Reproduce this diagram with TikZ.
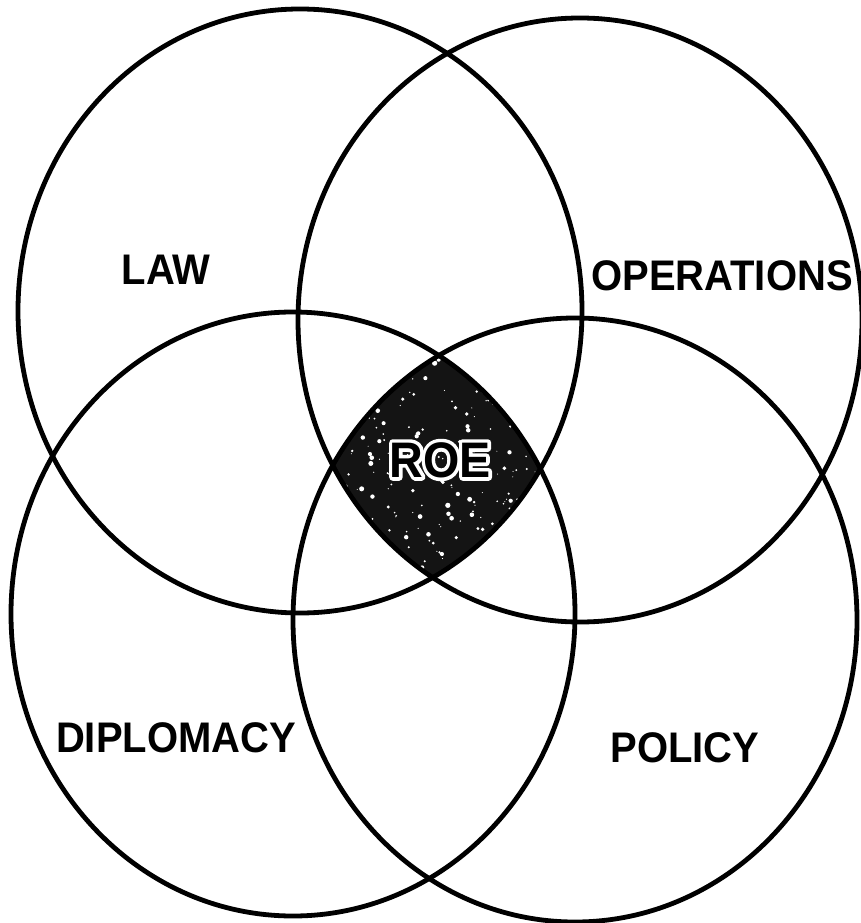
\documentclass[tikz,border=0pt]{standalone}
\usepackage{fontspec}
\setmainfont{Liberation Sans}
% outline-only rendering of glyphs (PDF text render mode 2, stroked in the current colour)
\newcommand{\haloglyphs}[2]{\special{pdf:literal direct 2 Tr #1 w 1 j}#2\special{pdf:literal direct 0 Tr}}
\begin{document}
\begin{tikzpicture}[x=0.75pt,y=-0.75pt,
  ring/.style={line width=3.6pt, draw=black},
  area label/.style={font=\bfseries\fontsize{30}{36}\selectfont, inner sep=0pt, yscale=1.07},
  core label/.style={font=\bfseries\fontsize{35}{42}\selectfont, inner sep=0pt, yscale=1.07}]
\useasboundingbox (0,0) rectangle (860,923);
\fill[white] (0,0) rectangle (860,923);

% centres of the four overlapping domains
\coordinate (cLaw) at (300,311);
\coordinate (cOps) at (580,320);
\coordinate (cDip) at (293,614);
\coordinate (cPol) at (575,620);
\def\ringrx{211.5pt}
\def\ringry{226.5pt}

% shared core: intersection of all four domains, dark with a grainy texture
\begin{scope}
  \clip (cLaw) ellipse [x radius=\ringrx, y radius=\ringry];
  \clip (cOps) ellipse [x radius=\ringrx, y radius=\ringry];
  \clip (cDip) ellipse [x radius=\ringrx, y radius=\ringry];
  \clip (cPol) ellipse [x radius=\ringrx, y radius=\ringry];
  \fill[black!92] (300,300) rectangle (600,620);
  \pgfmathsetseed{17}
  \foreach \k in {1,...,260}{
    \pgfmathsetmacro{\px}{335+210*rnd}
    \pgfmathsetmacro{\py}{345+230*rnd}
    \pgfmathsetmacro{\pr}{0.4+1.6*rnd^2}
    \fill[white] (\px,\py) circle [radius=\pr pt];
  }
\end{scope}

% core label: white outline behind black letters
\node[core label, text=white] (roe halo) at (440,460) {\haloglyphs{5}{ROE}};
\node[core label] (roe) at (440,460) {ROE};

% the four domains
\draw[ring] (cLaw) ellipse [x radius=\ringrx, y radius=\ringry];
\draw[ring] (cOps) ellipse [x radius=\ringrx, y radius=\ringry];
\draw[ring] (cDip) ellipse [x radius=\ringrx, y radius=\ringry];
\draw[ring] (cPol) ellipse [x radius=\ringrx, y radius=\ringry];

% domain labels
\node[area label] (law) at (166,270) {LAW};
\node[area label] (ops) at (722,276) {OPERATIONS};
\node[area label] (dip) at (176,738) {DIPLOMACY};
\node[area label] (pol) at (685,748) {POLICY};
\end{tikzpicture}
\end{document}
